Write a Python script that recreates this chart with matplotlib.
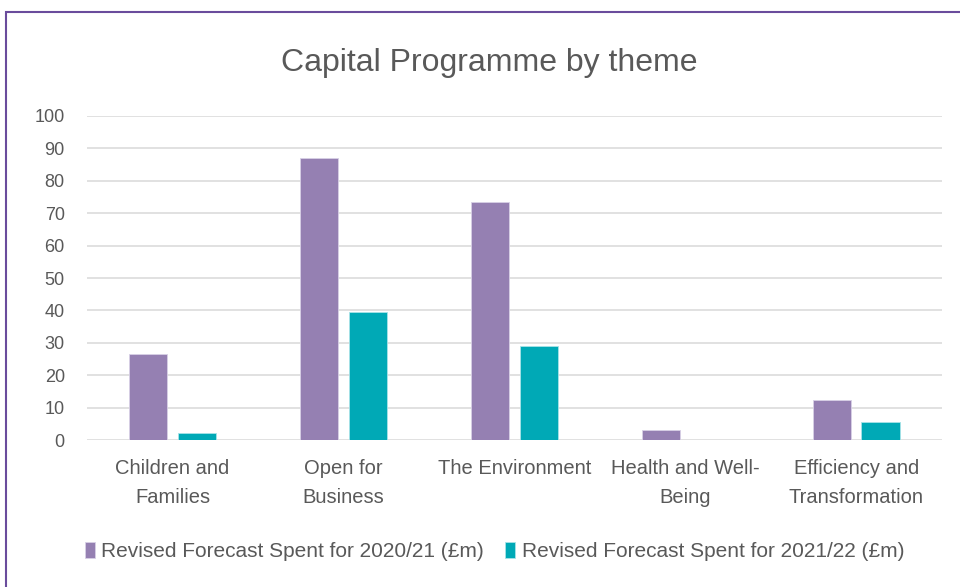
import numpy as np
import matplotlib
matplotlib.use("Agg")
import matplotlib.pyplot as plt
from matplotlib.patches import Rectangle

# データ
categories = ["Children and\nFamilies", "Open for\nBusiness", "The Environment",
              "Health and Well-\nBeing", "Efficiency and\nTransformation"]
forecast_2021 = [26.7, 87.1, 73.6, 3.2, 12.5]
forecast_2122 = [2.1, 39.6, 29.1, 0.0, 5.7]
series_labels = ["Revised Forecast Spent for 2020/21 (£m)",
                 "Revised Forecast Spent for 2021/22 (£m)"]
y_ticks = list(range(0, 101, 10))

plt.rcParams['font.family'] = ['Liberation Sans', 'DejaVu Sans']
text_col = '#595959'
purple = '#9580b2'
teal = '#00a9b6'

fig = plt.figure(figsize=(9.6, 5.87), dpi=100)
ax = fig.add_axes([0.0906, 0.2504, 0.8904, 0.552])

x = np.arange(len(categories))
w = 0.225
off = 0.143
ax.bar(x - off, forecast_2021, w, color=purple, edgecolor='#d8d0e6', linewidth=0.6,
       label=series_labels[0], zorder=3)
ax.bar(x + off, forecast_2122, w, color=teal, edgecolor='#a8e3e8', linewidth=0.6,
       label=series_labels[1], zorder=3)

ax.set_xlim(-0.5, len(categories) - 0.5)
ax.set_ylim(0, 100)
ax.set_yticks(y_ticks)
ax.set_xticks(x)
ax.set_xticklabels(categories, fontsize=14.5, color=text_col, linespacing=1.65)
ax.tick_params(axis='y', labelsize=13, labelcolor=text_col, length=0, pad=16)
ax.tick_params(axis='x', length=0, pad=14)
ax.grid(axis='y', color='#d9d9d9', linewidth=1.1, zorder=0)
for s in ax.spines.values():
    s.set_visible(False)

fig.text(0.51, 0.893, "Capital Programme by theme", ha='center', va='center',
         fontsize=23, color=text_col)

leg = fig.legend(loc='center', bbox_to_anchor=(0.515, 0.061), ncol=2, frameon=False,
                 fontsize=15, handlelength=0.5, handleheight=0.8, handletextpad=0.3,
                 columnspacing=1.0)
for t in leg.get_texts():
    t.set_color(text_col)

# 枠線（Excelのグラフ枠）
fig.patches.append(Rectangle((6 / 960, -0.05), 1.1, 1 - 12 / 587 + 0.05,
                             transform=fig.transFigure, fill=False,
                             edgecolor='#6a4c9c', linewidth=1.5))

fig.savefig("out.png", dpi=100)
